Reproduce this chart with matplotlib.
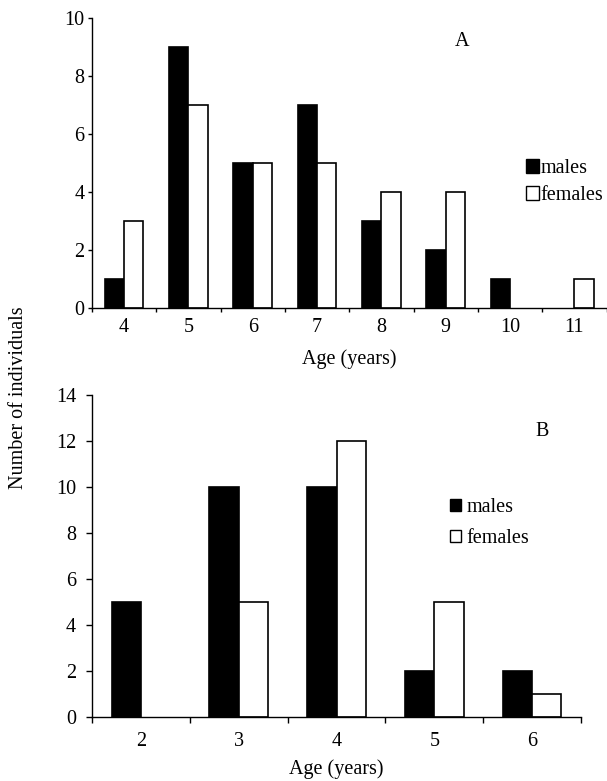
import matplotlib
matplotlib.use('Agg')
import matplotlib.pyplot as plt
from matplotlib.patches import Patch
import numpy as np

# panel A
ages_a = ['4', '5', '6', '7', '8', '9', '10', '11']
males_a = [1, 9, 5, 7, 3, 2, 1, 0]
females_a = [3, 7, 5, 5, 4, 4, 0, 1]

# panel B
ages_b = ['2', '3', '4', '5', '6']
males_b = [5, 10, 10, 2, 2]
females_b = [0, 5, 12, 5, 1]

plt.rcParams['font.family'] = ['Liberation Serif', 'DejaVu Serif']
plt.rcParams['font.size'] = 14.5

W, H = 607, 781
fig = plt.figure(figsize=(W / 100, H / 100), dpi=100)


def px_axes(left, top, right, bottom):
    return fig.add_axes([left / W, 1 - bottom / H, (right - left) / W, (bottom - top) / H])


def draw_panel(ax, ages, males, females, ymax, tlen, tpad, xpad, lpad):
    n = len(ages)
    x = np.arange(n)
    w = 0.3
    bm = ax.bar(x - w / 2, males, w, color='black', edgecolor='black', linewidth=1.2, zorder=2)
    bf = ax.bar(x + w / 2, females, w, color='white', edgecolor='black', linewidth=1.2, zorder=2)
    # zero counts: no visible bar outline on the axis
    for bars, vals in ((bm, males), (bf, females)):
        for b, v in zip(bars, vals):
            if v == 0:
                b.set_visible(False)
    ax.set_xlim(-0.5, n - 0.5)
    ax.set_ylim(0, ymax)
    ax.set_yticks(np.arange(0, ymax + 1, 2))
    # boundary ticks without labels, labels at category centres
    ax.set_xticks(np.arange(n + 1) - 0.5)
    ax.set_xticklabels([])
    ax.set_xticks(x, minor=True)
    ax.set_xticklabels(ages, minor=True)
    ax.tick_params(axis='x', which='minor', length=0, pad=xpad)
    ax.tick_params(axis='x', which='major', length=tlen, width=1, direction='out')
    ax.tick_params(axis='y', length=tlen, width=1, direction='out', pad=tpad)
    for s in ['top', 'right']:
        ax.spines[s].set_visible(False)
    for s in ['left', 'bottom']:
        ax.spines[s].set_linewidth(1)
    ax.set_xlabel('Age (years)', labelpad=lpad)


axA = px_axes(92, 18, 606.5, 308)
draw_panel(axA, ages_a, males_a, females_a, 10, 3.2, 2.2, 7.0, 9)

axB = px_axes(92, 395, 581, 717)
draw_panel(axB, ages_b, males_b, females_b, 14, 4.3, 7.2, 11.0, 5.5)

handles = [Patch(facecolor='black', edgecolor='black', linewidth=1),
           Patch(facecolor='white', edgecolor='black', linewidth=1)]

fig.legend(handles, ['males', 'females'], loc='upper left',
           bbox_to_anchor=(526 / W, 1 - 159 / H), frameon=False, borderpad=0,
           handlelength=0.65, handleheight=0.65, handletextpad=0.05, labelspacing=0.41,
           borderaxespad=0)
fig.legend(handles, ['males', 'females'], loc='upper left',
           bbox_to_anchor=(450 / W, 1 - 498 / H), frameon=False, borderpad=0,
           handlelength=0.55, handleheight=0.55, handletextpad=0.25, labelspacing=0.61,
           borderaxespad=0)

fig.text(462 / W, 1 - 41 / H, 'A', ha='center', va='center')
fig.text(542 / W, 1 - 432 / H, 'B', ha='center', va='center')
fig.text(19 / W, 1 - 398 / H, 'Number of individuals', rotation=90, ha='center', va='center')

fig.savefig('out.png', dpi=100)
